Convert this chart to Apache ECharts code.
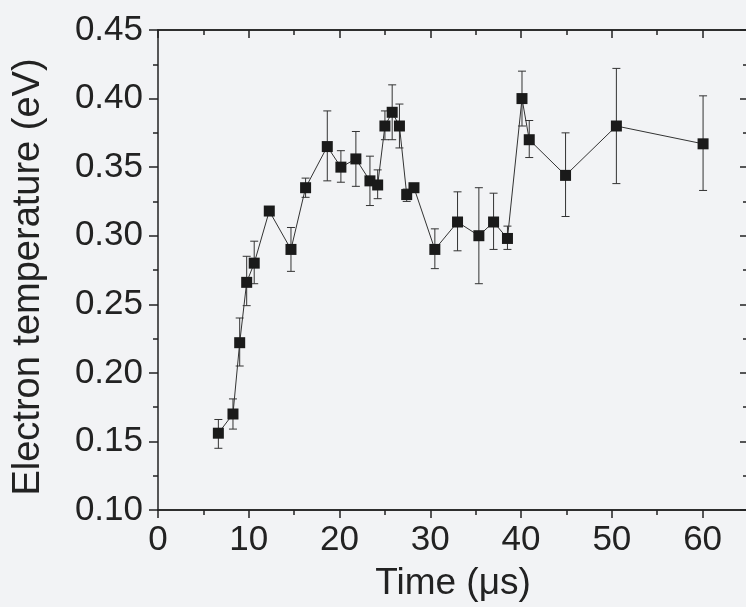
<!DOCTYPE html>
<html>
<head>
<meta charset="utf-8">
<script src="https://cdn.jsdelivr.net/npm/echarts@6/dist/echarts.min.js"></script>
<style>
html,body{margin:0;padding:0;background:#f2f3f5;}
#chart{width:746px;height:607px;}
</style>
</head>
<body>
<div id="chart"></div>
<script>
// Data
var timeUs   = [6.65, 8.26, 9.0, 9.77, 10.6, 12.26, 14.65, 16.26, 18.65, 20.15, 21.8, 23.35, 24.2, 25.0, 25.8, 26.6, 27.4, 28.2, 30.5, 33.0, 35.35, 36.97, 38.5, 40.1, 40.9, 44.9, 50.5, 60.05];
var tempEv   = [0.156, 0.170, 0.222, 0.266, 0.280, 0.318, 0.290, 0.335, 0.365, 0.350, 0.356, 0.340, 0.337, 0.380, 0.390, 0.380, 0.330, 0.335, 0.290, 0.310, 0.300, 0.310, 0.298, 0.400, 0.370, 0.344, 0.380, 0.367];
var errUpper = [0.166, 0.181, 0.240, 0.285, 0.296, 0.320, 0.306, 0.342, 0.391, 0.362, 0.376, 0.358, 0.348, 0.391, 0.410, 0.396, 0.334, 0.337, 0.305, 0.332, 0.335, 0.331, 0.307, 0.420, 0.384, 0.375, 0.422, 0.402];
var errLower = [0.145, 0.159, 0.205, 0.249, 0.265, 0.316, 0.274, 0.328, 0.340, 0.339, 0.336, 0.322, 0.327, 0.370, 0.370, 0.364, 0.325, 0.333, 0.276, 0.289, 0.265, 0.290, 0.290, 0.380, 0.357, 0.314, 0.338, 0.333];
var xTitle = 'Time (\u03bcs)';
var yTitle = 'Electron temperature (eV)';

var FONT = "'Liberation Sans', Arial, Helvetica, sans-serif";
var INK = '#222';

var lineData = timeUs.map(function (t, i) { return [t, tempEv[i]]; });
var errData = timeUs.map(function (t, i) { return [t, errLower[i], errUpper[i]]; });

function xAxisBase(extra) {
  var a = {
    type: 'value', min: 0, max: 65, gridIndex: 0,
    splitLine: {show: false},
    axisLine: {show: true, onZero: false, lineStyle: {color: INK, width: 1.5}},
    axisLabel: {show: false},
    axisTick: {show: true, lineStyle: {color: INK, width: 1.5}}
  };
  for (var k in extra) a[k] = extra[k];
  return a;
}

var chart = echarts.init(document.getElementById('chart'));
chart.setOption({
  backgroundColor: '#f2f3f5',
  animation: false,
  grid: {left: 158, top: 30, width: 590, height: 480, containLabel: false, outerBoundsMode: 'none'},
  xAxis: [
    xAxisBase({
      position: 'bottom', interval: 10,
      axisTick: {show: true, inside: false, length: 8, lineStyle: {color: INK, width: 1.5}},
      axisLabel: {show: true, margin: 13, fontSize: 35, color: INK, fontFamily: FONT, showMaxLabel: false},
      name: xTitle, nameLocation: 'middle', nameGap: 55,
      nameTextStyle: {fontSize: 37, color: INK, fontFamily: FONT}
    }),
    xAxisBase({
      position: 'bottom', interval: 5,
      axisTick: {show: true, inside: false, length: 5, lineStyle: {color: INK, width: 1.5}}
    }),
    xAxisBase({
      position: 'top', interval: 10,
      axisTick: {show: true, inside: true, length: 8, lineStyle: {color: INK, width: 1.5}}
    }),
    xAxisBase({
      position: 'top', interval: 5,
      axisTick: {show: true, inside: true, length: 5, lineStyle: {color: INK, width: 1.5}}
    })
  ],
  yAxis: [
    {
      type: 'value', min: 0.10, max: 0.45, interval: 0.05, position: 'left',
      splitLine: {show: false},
      axisLine: {show: true, onZero: false, lineStyle: {color: INK, width: 1.5}},
      axisTick: {show: true, inside: false, length: 9, lineStyle: {color: INK, width: 1.5}},
      minorTick: {show: true, splitNumber: 2, length: 5, lineStyle: {color: INK, width: 1.5}},
      axisLabel: {margin: 15, fontSize: 35, color: INK, fontFamily: FONT,
        formatter: function (v) { return v.toFixed(2); }},
      name: yTitle, nameLocation: 'middle', nameGap: 110, nameRotate: 90,
      nameTextStyle: {fontSize: 38, color: INK, fontFamily: FONT, padding: [0, 14, 0, 0]}
    },
    {
      type: 'value', min: 0.10, max: 0.45, interval: 0.05, position: 'right',
      splitLine: {show: false},
      axisLine: {show: true, onZero: false, lineStyle: {color: INK, width: 1.5}},
      axisTick: {show: true, inside: true, length: 8, lineStyle: {color: INK, width: 1.5}},
      minorTick: {show: true, splitNumber: 2, length: 5, lineStyle: {color: INK, width: 1.5}},
      axisLabel: {show: false}
    }
  ],
  series: [
    {
      type: 'custom', xAxisIndex: 0, yAxisIndex: 0, z: 2,
      data: errData,
      renderItem: function (params, api) {
        var x = api.value(0);
        var lo = api.coord([x, api.value(1)]);
        var hi = api.coord([x, api.value(2)]);
        var hw = 4;
        var style = {stroke: '#333', lineWidth: 1, fill: null};
        return {
          type: 'group',
          children: [
            {type: 'line', shape: {x1: lo[0], y1: lo[1], x2: hi[0], y2: hi[1]}, style: style},
            {type: 'line', shape: {x1: hi[0] - hw, y1: hi[1], x2: hi[0] + hw, y2: hi[1]}, style: style},
            {type: 'line', shape: {x1: lo[0] - hw, y1: lo[1], x2: lo[0] + hw, y2: lo[1]}, style: style}
          ]
        };
      }
    },
    {
      type: 'line', xAxisIndex: 0, yAxisIndex: 0, z: 3,
      data: lineData,
      symbol: 'rect', symbolSize: 11,
      itemStyle: {color: '#1a1a1a'},
      lineStyle: {color: '#333', width: 1}
    }
  ]
});
</script>
</body>
</html>
